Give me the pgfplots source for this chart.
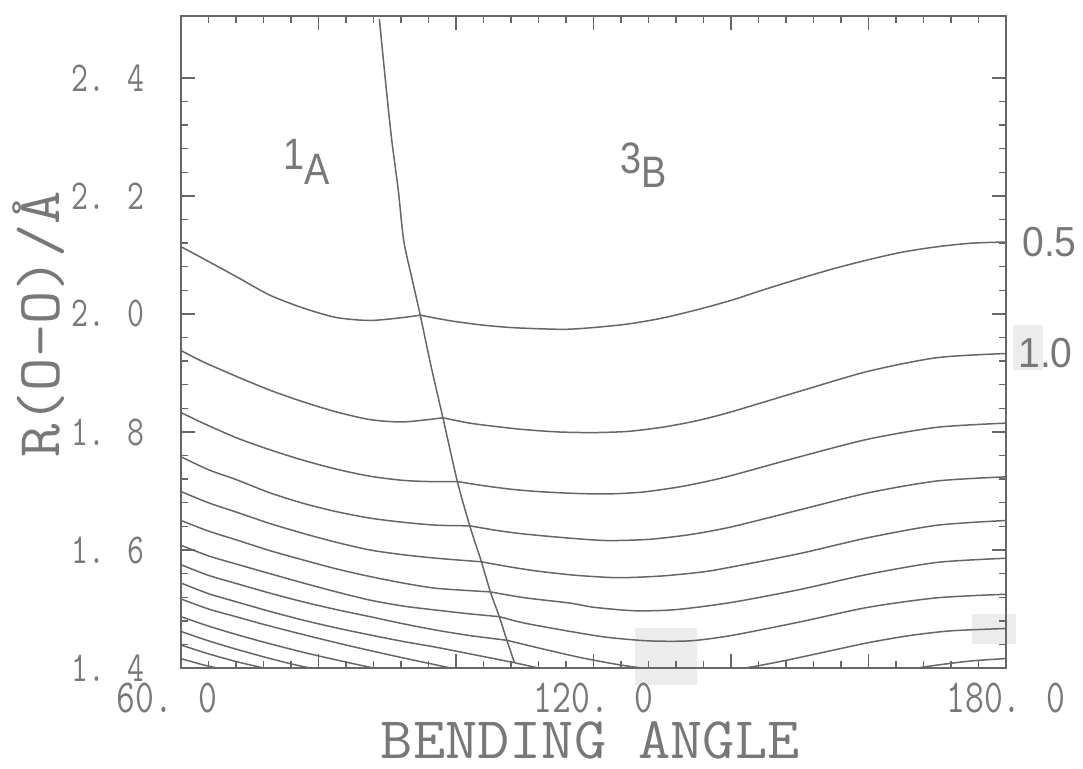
\documentclass[border=0pt]{standalone}
\usepackage{pgfplots}
\pgfplotsset{compat=1.18}
\usepackage{fontspec}
\setmainfont{Liberation Sans}
\newfontfamily\tickfont{Latin Modern Mono}[FakeStretch=0.77]
\newfontfamily\axfont{Latin Modern Mono}[FakeStretch=1.06]
\newfontfamily\symfont{Liberation Sans}[FakeStretch=0.86]
\newfontfamily\numfont{Liberation Sans}[FakeStretch=0.93]
\definecolor{ink}{gray}{0.40}
\definecolor{txt}{gray}{0.47}
\definecolor{patch}{gray}{0.925}
\pgfplotsset{contour/.style={ink, solid, line width=0.75pt, mark=none, smooth, tension=0.45}}

\begin{document}
\begin{tikzpicture}
\begin{axis}[
  set layers,
  clip mode=individual,
  scale only axis, width=412.5pt, height=326pt,
  xmin=60, xmax=180, ymin=1.4, ymax=2.505,
  axis line style={ink, line width=0.8pt},
  every tick/.style={ink, line width=0.7pt},
  major tick length=7pt, minor tick length=3.5pt,
  xtick={60,80,100,120,140,160,180},
  xticklabels={{60. 0\hspace*{14pt}},{},{},{120. 0},{},{},{180. 0}},
  minor x tick num=4,
  ytick={1.4,1.6,1.8,2.0,2.2,2.4},
  yticklabels={1. 4,1. 6,1. 8,2. 0,2. 2,2. 4},
  minor y tick num=4,
  xticklabel style={font=\tickfont\fontsize{23.7}{23.7}\selectfont, text=txt,
    inner sep=0pt, anchor=north, yshift=-7.5pt},
  yticklabel style={font=\tickfont\fontsize{21.3}{21.3}\selectfont, text=txt,
    inner sep=0pt, anchor=east, xshift=-18pt},
  xlabel={BENDING ANGLE},
  xlabel style={font=\axfont\fontsize{29.5}{29.5}\selectfont, text=txt,
    at={(axis description cs:0.496,0)}, anchor=north, inner sep=0pt, yshift=-26.8pt},
  ylabel={R(O-O)/Å},
  ylabel style={font=\axfont\fontsize{30.5}{30.5}\selectfont, text=txt,
    at={(axis description cs:-0.1406,0.527)}, anchor=south, inner sep=0pt},
]
% faint background patches
\begin{pgfonlayer}{axis background}
\fill[patch] (axis cs:181.0,1.981) rectangle (axis cs:185.4,1.905);
\fill[patch] (axis cs:126.0,1.468) rectangle (axis cs:135.05,1.371);
\fill[patch] (axis cs:175.1,1.4915) rectangle (axis cs:181.5,1.4407);
\end{pgfonlayer}

% boundary between the 1A and 3B regions
\addplot[contour] coordinates {(88.85,2.50) (89.7,2.40) (90.6,2.30) (91.6,2.21) (92.4,2.124)
  (93.6,2.06) (94.8,1.998) (96.4,1.91) (98.1,1.824) (100.2,1.716) (102.0,1.641)
  (103.7,1.580) (105.0,1.529) (106.3,1.487) (107.4,1.447) (108.5,1.409)};

% contour 1 (0.5)
\addplot[contour] coordinates {(60,2.114) (63.2,2.094) (68.1,2.063) (72.9,2.032) (77.8,2.010)
  (82.6,1.994) (87.5,1.989) (92.3,1.994) (94.8,1.998)};
\addplot[contour] coordinates {(94.8,1.998) (97,1.993) (100,1.987) (104,1.981) (108,1.977)
  (112,1.975) (116,1.974) (120,1.977) (125,1.983) (130,1.993) (135,2.007) (140,2.023)
  (145,2.042) (150,2.060) (155,2.077) (160,2.092) (165,2.105) (170,2.114) (175,2.120) (180,2.122)};
% contour 2 (1.0)
\addplot[contour] coordinates {(60,1.938) (63.2,1.919) (68.1,1.894) (72.9,1.871) (77.8,1.851)
  (82.6,1.834) (87.5,1.821) (92.3,1.817) (98.1,1.824)};
\addplot[contour] coordinates {(98.1,1.824) (102,1.815) (106,1.809) (110,1.804) (115,1.800)
  (120,1.799) (125,1.801) (130,1.808) (135,1.819) (140,1.834) (150,1.869) (160,1.903) (170,1.926) (180,1.933)};
% contour 3
\addplot[contour] coordinates {(60,1.833) (63.2,1.815) (68.1,1.790) (72.9,1.770) (77.8,1.752)
  (82.6,1.737) (87.5,1.725) (92.3,1.718) (96.2,1.716) (100.2,1.716)};
\addplot[contour] coordinates {(100.2,1.716) (104,1.709) (108,1.703) (112,1.699) (117,1.696)
  (122,1.695) (127,1.698) (132,1.706) (136,1.715) (140,1.726) (150,1.758) (160,1.788) (170,1.808) (180,1.815)};
% contour 4
\addplot[contour] coordinates {(60,1.758) (64,1.736) (68.1,1.719) (72.9,1.697) (77.8,1.679)
  (82.6,1.665) (87.5,1.654) (92.3,1.647) (97.2,1.642) (102,1.641)};
\addplot[contour] coordinates {(102,1.641) (106,1.633) (110,1.627) (116.6,1.620) (122,1.616)
  (128,1.618) (134,1.626) (140,1.639) (150,1.668) (160,1.697) (170,1.717) (180,1.724)};
% contour 5
\addplot[contour] coordinates {(60,1.699) (64,1.680) (68.1,1.664) (72.9,1.645) (77.8,1.628)
  (82.6,1.613) (87.5,1.600) (92.3,1.592) (97.2,1.586) (103.7,1.580)};
\addplot[contour] coordinates {(103.7,1.580) (108,1.571) (112,1.564) (116.6,1.558) (120,1.555)
  (124,1.553) (130,1.556) (136,1.563) (140,1.571) (150,1.594) (160,1.621) (170,1.642) (180,1.650)};
% contour 6
\addplot[contour] coordinates {(60,1.650) (64,1.632) (68.1,1.617) (72.9,1.599) (77.8,1.583)
  (82.6,1.568) (87.5,1.555) (92.3,1.544) (97.2,1.535) (105.0,1.529)};
\addplot[contour] coordinates {(105.0,1.529) (110,1.519) (116.6,1.510) (120,1.503) (126,1.497)
  (132,1.499) (140,1.511) (150,1.533) (160,1.559) (170,1.579) (180,1.586)};
% contour 7
\addplot[contour] coordinates {(60,1.608) (64,1.590) (68.1,1.576) (72.9,1.560) (77.8,1.544)
  (82.6,1.529) (87.5,1.515) (92.3,1.505) (97.2,1.498) (101.8,1.492) (106.3,1.487)};
\addplot[contour] coordinates {(106.3,1.487) (110,1.476) (116.6,1.462) (122,1.452) (128,1.446)
  (134,1.446) (140,1.455) (150,1.478) (160,1.503) (170,1.519) (180,1.525)};
% contour 8
\addplot[contour] coordinates {(60,1.575) (64,1.557) (68.1,1.543) (72.9,1.527) (77.8,1.512)
  (82.6,1.499) (87.5,1.487) (92.3,1.475) (97.2,1.464) (102,1.455) (107.4,1.447)};
\addplot[contour] coordinates {(107.4,1.447) (112,1.434) (118,1.418) (124,1.405) (130,1.396)
  (136,1.394) (142,1.400) (148,1.413) (154,1.428) (160,1.443) (166,1.455) (172,1.463) (180,1.467)};
% contour 9
\addplot[contour] coordinates {(60,1.544) (64,1.526) (68.1,1.512) (72.9,1.496) (77.8,1.481)
  (82.6,1.468) (87.5,1.456) (92.3,1.445) (97.2,1.435) (102,1.424) (108.5,1.409)};
\addplot[contour] coordinates {(108.5,1.409) (112,1.400) (118,1.385) (126,1.372) (140,1.360)
  (155,1.375) (165,1.396) (170,1.405) (175,1.412) (180,1.416)};
% contours 10-14
\addplot[contour] coordinates {(60,1.517) (64,1.500) (68,1.487) (72,1.474) (78,1.456) (84,1.439)
  (90,1.423) (96,1.408) (100,1.398) (104,1.388)};
\addplot[contour] coordinates {(60,1.487) (64,1.471) (68,1.457) (72,1.444) (78,1.426) (84,1.410)
  (88,1.400) (92,1.390)};
\addplot[contour] coordinates {(60,1.462) (64,1.446) (68,1.432) (72,1.419) (76,1.407) (80,1.397) (84,1.387)};
\addplot[contour] coordinates {(60,1.439) (64,1.424) (68,1.411) (72,1.400) (76,1.389)};
\addplot[contour] coordinates {(60,1.416) (63,1.406) (66,1.398) (70,1.388)};

% region and contour labels
\node[anchor=base west, inner sep=0pt, text=txt, font=\symfont\fontsize{22}{22}\selectfont]
  at (axis cs:74.8,2.219) {\raisebox{7.5pt}{1}A};
\node[anchor=base west, inner sep=0pt, text=txt, font=\symfont\fontsize{22}{22}\selectfont]
  at (axis cs:123.85,2.215) {\raisebox{7pt}{3}B};
\node[anchor=west, inner sep=0pt, text=txt, font=\numfont\fontsize{21}{21}\selectfont]
  at (axis cs:180,2.122) {\hspace*{8pt}0.5};
\node[anchor=west, inner sep=0pt, text=txt, font=\numfont\fontsize{21}{21}\selectfont]
  at (axis cs:180,1.933) {\hspace*{6pt}1.0};
\end{axis}
\pgfresetboundingbox
\path[use as bounding box] ([shift={(-90.5pt,-50pt)}]current axis.south west)
  rectangle ([shift={(38.5pt,8pt)}]current axis.north east);
\end{tikzpicture}
\end{document}
